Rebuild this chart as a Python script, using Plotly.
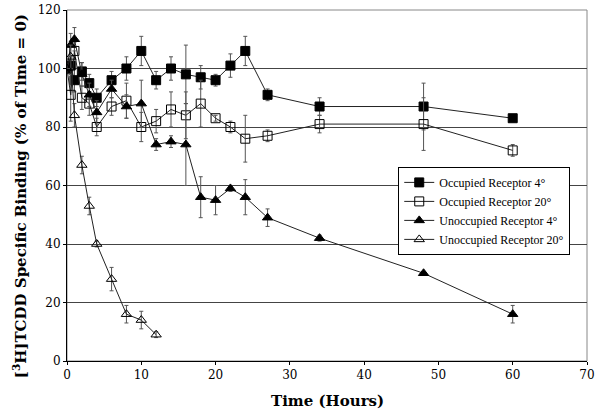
import plotly.graph_objects as go

# Occupied Receptor 4°
occ4_t = [0, 0.5, 1, 2, 3, 4, 6, 8, 10, 12, 14, 16, 18, 20, 22, 24, 27, 34, 48, 60]
occ4_y = [100, 101, 96, 99, 95, 90, 96, 100, 106, 96, 100, 98, 97, 96, 101, 106, 91, 87, 87, 83]
occ4_e = [0, 3, 4, 3, 3, 3, 3, 4, 5, 3, 4, 10, 4, 2, 4, 5, 2, 3, 8, 0]

# Occupied Receptor 20°
occ20_t = [0, 0.5, 1, 2, 3, 4, 6, 8, 10, 12, 14, 16, 18, 20, 22, 24, 27, 34, 48, 60]
occ20_y = [100, 91, 106, 90, 88, 80, 87, 89, 80, 82, 86, 84, 88, 83, 80, 76, 77, 81, 81, 72]
occ20_e = [0, 9, 3, 4, 4, 3, 3, 6, 5, 4, 6, 8, 8, 1, 2, 8, 2, 3, 9, 2]

# Unoccupied Receptor 4°
unocc4_t = [0, 0.5, 1, 2, 3, 4, 6, 8, 10, 12, 14, 16, 18, 20, 22, 24, 27, 34, 48, 60]
unocc4_y = [100, 108, 110, 98, 91, 85, 93, 87, 88, 74, 75, 74, 56, 55, 59, 56, 49, 42, 30, 16]
unocc4_e = [0, 4, 4, 4, 4, 4, 3, 4, 8, 2, 2, 14, 7, 5, 1, 6, 3, 1, 0.5, 3]

# Unoccupied Receptor 20°
unocc20_t = [0, 0.5, 1, 2, 3, 4, 6, 8, 10, 12]
unocc20_y = [100, 104, 84, 67, 53, 40, 28, 16, 14, 9]
unocc20_e = [0, 4, 4, 3, 3, 1, 4, 3, 3, 1]

x_ticks = [0, 10, 20, 30, 40, 50, 60, 70]
y_ticks = [0, 20, 40, 60, 80, 100, 120]

series = [
    ("Occupied Receptor 4°", occ4_t, occ4_y, occ4_e, "square"),
    ("Occupied Receptor 20°", occ20_t, occ20_y, occ20_e, "square-open"),
    ("Unoccupied Receptor 4°", unocc4_t, unocc4_y, unocc4_e, "triangle-up"),
    ("Unoccupied Receptor 20°", unocc20_t, unocc20_y, unocc20_e, "triangle-up-open"),
]

fig = go.Figure()
for name, t, y, e, sym in series:
    fig.add_trace(go.Scatter(
        x=t, y=y, name=name, mode="lines+markers",
        line=dict(color="#222222", width=1),
        marker=dict(symbol=sym, size=9, color="black",
                    line=dict(color="black", width=1)),
        error_y=dict(type="data", array=e, visible=True, color="#555555",
                     thickness=1, width=2),
    ))

serif = "Liberation Serif"
serif2 = "DejaVu Serif"
fig.update_layout(
    width=600, height=417,
    margin=dict(l=67, r=13, t=10, b=56),
    paper_bgcolor="white", plot_bgcolor="white",
    font=dict(family=serif, size=13, color="black"),
    showlegend=True,
    legend=dict(x=0.637, y=0.553, xanchor="left", yanchor="top",
                bgcolor="white", bordercolor="black", borderwidth=1,
                font=dict(family=serif, size=12), tracegroupgap=0,
                itemwidth=30),
    xaxis=dict(range=[0, 70], tickvals=x_ticks, automargin=False,
               showgrid=False, zeroline=False, showline=True,
               linecolor="black", linewidth=1,
               ticks="outside", ticklen=3, tickcolor="black",
               tickfont=dict(family=serif2, size=12)),
    yaxis=dict(range=[0, 120], tickvals=y_ticks, automargin=False,
               showgrid=True, gridcolor="#444444", gridwidth=1,
               zeroline=False, showline=True,
               linecolor="black", linewidth=1,
               ticks="outside", ticklen=3, tickcolor="black",
               tickfont=dict(family=serif2, size=12)),
    annotations=[
        dict(text="<b>Time (Hours)</b>", xref="paper", yref="paper",
             x=0.5, y=-0.115, xanchor="center", yanchor="middle",
             showarrow=False, font=dict(family=serif2, size=15)),
        dict(text="<b>[<sup>3</sup>H]TCDD Specific Binding (% of Time = 0)</b>",
             xref="paper", yref="paper", x=-0.09, y=0.47,
             xanchor="center", yanchor="middle", textangle=-90,
             showarrow=False, font=dict(family=serif2, size=15)),
    ],
)
# top and right border (grey)
fig.add_shape(type="rect", xref="paper", yref="paper", x0=0, x1=1, y0=0, y1=1,
              line=dict(color="#888888", width=1), layer="below")

fig.write_html("out.html", config={"displayModeBar": False},
               post_script="document.body.style.margin='0';document.body.style.padding='0';")
